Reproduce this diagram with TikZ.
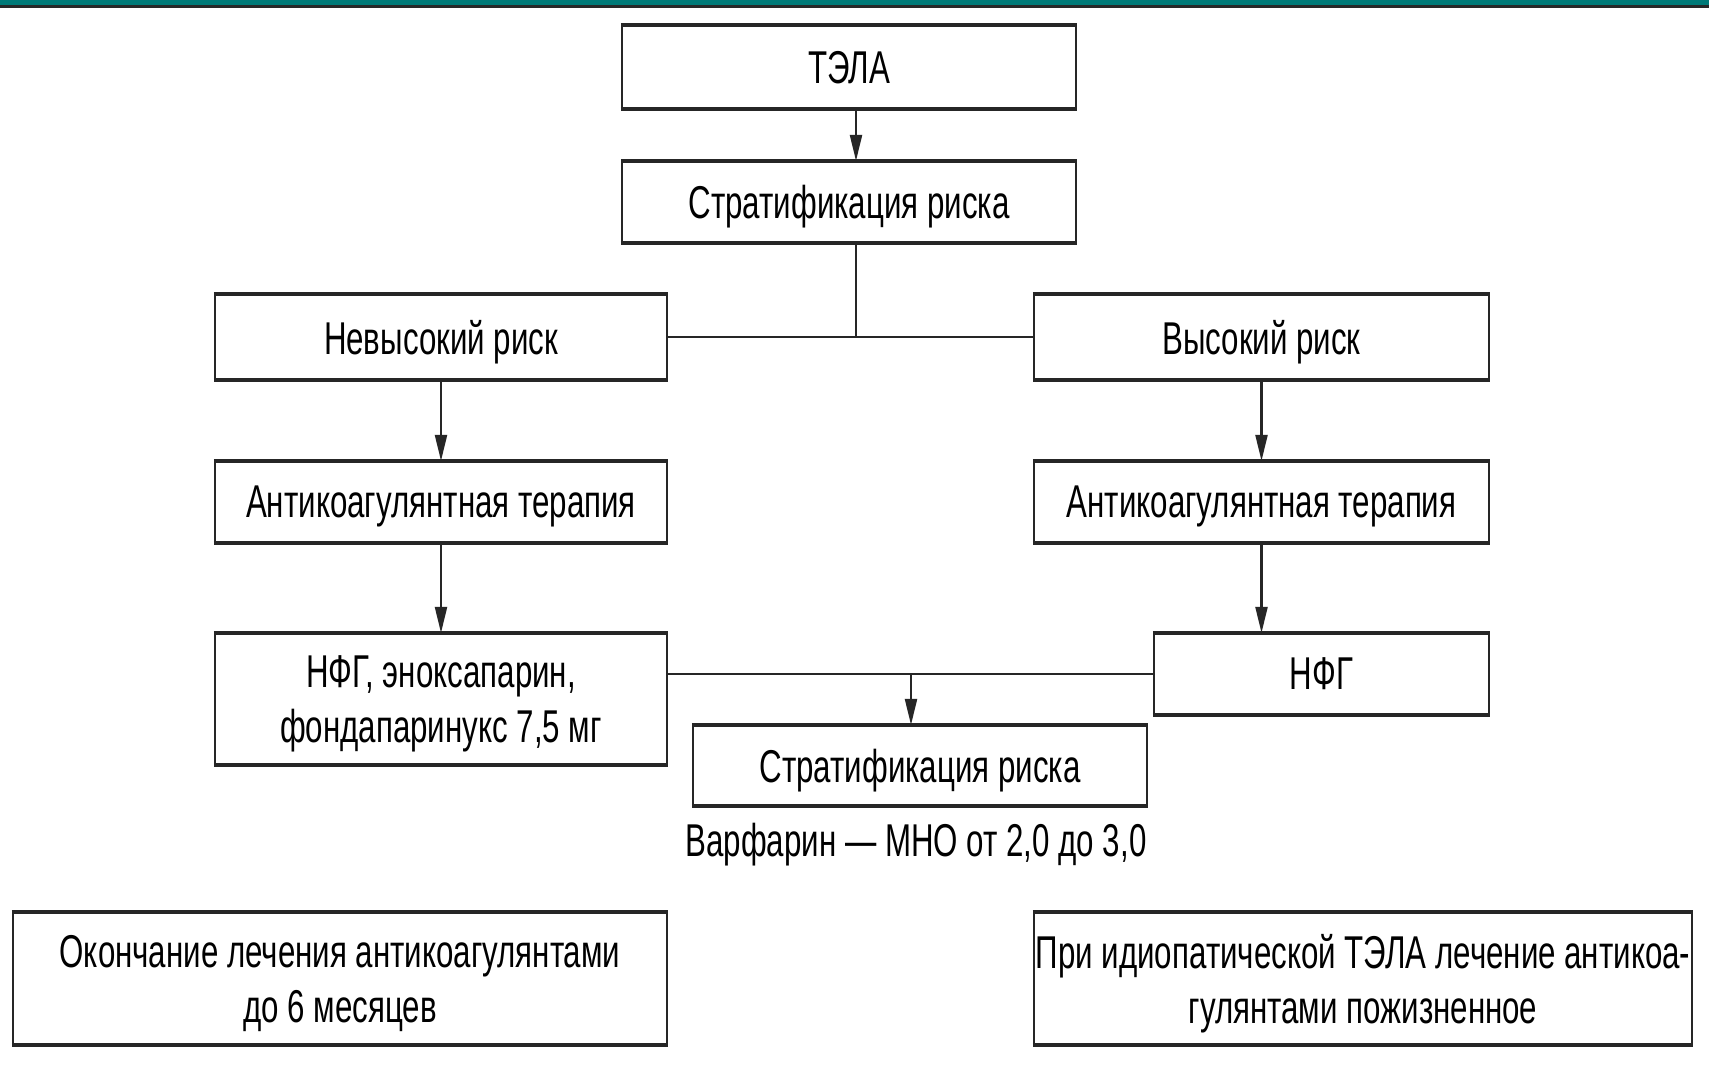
\documentclass[tikz,border=0pt]{standalone}
\usepackage{fontspec}
\setmainfont{Liberation Sans}[FakeStretch=0.68]
\usetikzlibrary{arrows.meta}
\definecolor{barteal}{RGB}{0,122,120}
\definecolor{bardark}{RGB}{40,40,40}
\begin{document}
\begin{tikzpicture}[x=1pt,y=-1pt,
  box/.style={draw=black!85,line width=2.2pt,rectangle,inner sep=0pt,align=center,
    font=\fontsize{46}{55}\selectfont,text depth=0pt},
  edge/.style={draw=black!85,line width=4pt},
  conn/.style={draw=black!85,line width=2.2pt},
  arr/.style={conn,-{Triangle[length=26pt,width=12pt]}}]
\useasboundingbox (0,0) rectangle (1709,1065);
\fill[white] (0,0) rectangle (1709,1065);
\fill[barteal] (0,0) rectangle (1709,5);
\fill[bardark] (0,5) rectangle (1709,8);

\node[box,minimum width=454pt,minimum height=82pt] (tela) at (849,67) {ТЭЛА};
\node[box,minimum width=454pt,minimum height=80pt] (strat1) at (849,202) {Стратификация риска};
\node[box,minimum width=452pt,minimum height=84pt] (low) at (441,337) {Невысокий риск};
\node[box,minimum width=455pt,minimum height=84pt] (high) at (1261.5,337) {Высокий риск};
\node[box,minimum width=452pt,minimum height=80pt] (ac1) at (441,502) {Антикоагулянтная терапия};
\node[box,minimum width=455pt,minimum height=80pt] (ac2) at (1261.5,502) {Антикоагулянтная терапия};
\node[box,minimum width=452pt,minimum height=130pt] (nfg1) at (441,699) {НФГ, эноксапарин,\\фондапаринукс 7,5 мг};
\node[box,minimum width=335pt,minimum height=80pt] (nfg2) at (1321.5,674) {НФГ};
\node[box,minimum width=454pt,minimum height=79pt] (strat2) at (920,765.5) {Стратификация риска};
\node[font=\fontsize{46}{55}\selectfont,inner sep=0pt] (warf) at (916,845) {Варфарин — МНО от 2,0 до 3,0};
\node[box,minimum width=654pt,minimum height=131pt] (end1) at (340,978.5) {Окончание лечения антикоагулянтами\\до 6 месяцев};
\node[box,minimum width=658pt,minimum height=131pt] (end2) at (1363,978.5) {При идиопатической ТЭЛА лечение антикоа-\\гулянтами пожизненное};

\foreach \n in {tela,strat1,low,high,ac1,ac2,nfg1,nfg2,strat2,end1,end2}{
  \draw[edge] (\n.north west) -- (\n.north east);
  \draw[edge] (\n.south west) -- (\n.south east);
}

\coordinate (c1) at (856,0);
\coordinate (j1) at (856,337);
\coordinate (c2) at (911,0);

\draw[arr] (tela.south -| c1) -- (strat1.north -| c1);
\draw[conn] (strat1.south -| c1) -- (j1);
\draw[conn] (low.east) -- (high.west);
\draw[arr] (low.south) -- (ac1.north);
\draw[arr] (high.south) -- (ac2.north);
\draw[arr] (ac1.south) -- (nfg1.north);
\draw[arr] (ac2.south) -- (ac2.south |- nfg2.north);
\draw[conn] (nfg2.west -| nfg1.east) -- (nfg2.west);
\draw[arr] (nfg2.west -| c2) -- (strat2.north -| c2);
\end{tikzpicture}
\end{document}
